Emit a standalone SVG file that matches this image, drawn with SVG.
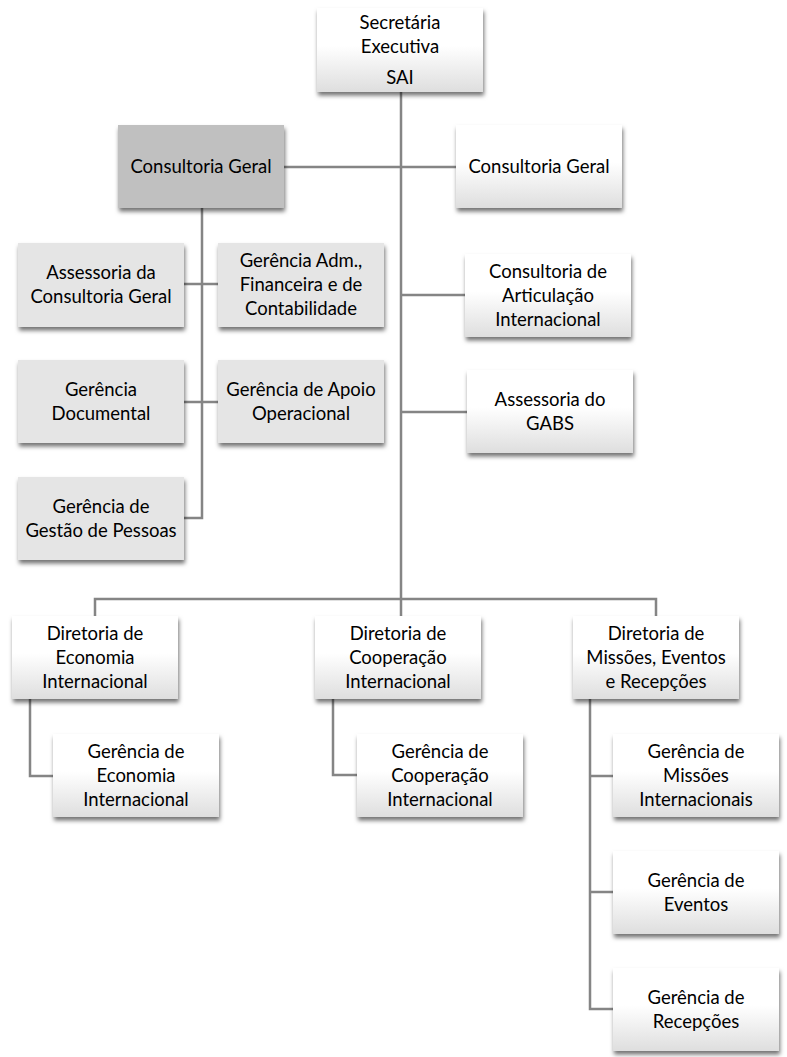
<svg xmlns="http://www.w3.org/2000/svg" width="787" height="1057" viewBox="0 0 787 1057">
<style>
.t{font-family:Lato,"Open Sans","Liberation Sans",sans-serif;font-size:18.5px;fill:#000;text-anchor:middle}
.w{fill:url(#gw);filter:url(#sh)}
.g{fill:#e5e5e5;filter:url(#sh)}
.d{fill:#c0c0c0;filter:url(#sh)}
.c{stroke:#858585;stroke-width:2.5;fill:none}
</style>
<defs>
<linearGradient id="gw" x1="0" y1="0" x2="0" y2="1">
<stop offset="0" stop-color="#ffffff"/>
<stop offset="0.45" stop-color="#ffffff"/>
<stop offset="1" stop-color="#dedede"/>
</linearGradient>
<filter id="sh" x="-10%" y="-10%" width="125%" height="135%">
<feDropShadow dx="1" dy="3.5" stdDeviation="2.2" flood-color="#000" flood-opacity="0.55"/>
</filter>
</defs>
<g id="connectors" class="c">
<path d="M401 92V616"/>
<path d="M284 167H456"/>
<path d="M401 295H465M401 412H467"/>
<path d="M202 208V518H184M184 284H218M184 402H218"/>
<path d="M95 616V599H656V616"/>
<path d="M30 699V776H53"/>
<path d="M333 699V775H357"/>
<path d="M590 699V1009H613M590 776H613M590 892H613"/>
</g>
<g id="n-sai"><rect class="w" x="317" y="8" width="166" height="84"/><text class="t" x="400" y="29">Secretária</text><text class="t" x="400" y="53">Executiva</text><text class="t" x="400" y="84">SAI</text></g>
<g id="n-cg-gray"><rect class="d" x="118" y="125" width="166" height="83"/><text class="t" x="201" y="173">Consultoria Geral</text></g>
<g id="n-cg"><rect class="w" x="456" y="125" width="166" height="83"/><text class="t" x="539" y="173">Consultoria Geral</text></g>
<g id="n-acg"><rect class="g" x="18" y="243" width="166" height="84"/><text class="t" x="101" y="279">Assessoria da</text><text class="t" x="101" y="303">Consultoria Geral</text></g>
<g id="n-gafc"><rect class="g" x="218" y="243" width="166" height="84"/><text class="t" x="301" y="267">Gerência Adm.,</text><text class="t" x="301" y="291">Financeira e de</text><text class="t" x="301" y="315">Contabilidade</text></g>
<g id="n-gd"><rect class="g" x="18" y="360" width="166" height="83"/><text class="t" x="101" y="396">Gerência</text><text class="t" x="101" y="420">Documental</text></g>
<g id="n-gao"><rect class="g" x="218" y="360" width="166" height="83"/><text class="t" x="301" y="396">Gerência de Apoio</text><text class="t" x="301" y="420">Operacional</text></g>
<g id="n-ggp"><rect class="g" x="18" y="477" width="166" height="83"/><text class="t" x="101" y="513">Gerência de</text><text class="t" x="101" y="537">Gestão de Pessoas</text></g>
<g id="n-cai"><rect class="w" x="465" y="254" width="166" height="83"/><text class="t" x="548" y="278">Consultoria de</text><text class="t" x="548" y="302">Articulação</text><text class="t" x="548" y="326">Internacional</text></g>
<g id="n-gabs"><rect class="w" x="467" y="370" width="166" height="83"/><text class="t" x="550" y="406">Assessoria do</text><text class="t" x="550" y="430">GABS</text></g>
<g id="n-dei"><rect class="w" x="12" y="616" width="166" height="83"/><text class="t" x="95" y="640">Diretoria de</text><text class="t" x="95" y="664">Economia</text><text class="t" x="95" y="688">Internacional</text></g>
<g id="n-dci"><rect class="w" x="315" y="616" width="166" height="83"/><text class="t" x="398" y="640">Diretoria de</text><text class="t" x="398" y="664">Cooperação</text><text class="t" x="398" y="688">Internacional</text></g>
<g id="n-dmer"><rect class="w" x="573" y="616" width="166" height="83"/><text class="t" x="656" y="640">Diretoria de</text><text class="t" x="656" y="664">Missões, Eventos</text><text class="t" x="656" y="688">e Recepções</text></g>
<g id="n-gei"><rect class="w" x="53" y="734" width="166" height="83"/><text class="t" x="136" y="758">Gerência de</text><text class="t" x="136" y="782">Economia</text><text class="t" x="136" y="806">Internacional</text></g>
<g id="n-gci"><rect class="w" x="357" y="734" width="166" height="83"/><text class="t" x="440" y="758">Gerência de</text><text class="t" x="440" y="782">Cooperação</text><text class="t" x="440" y="806">Internacional</text></g>
<g id="n-gmi"><rect class="w" x="613" y="734" width="166" height="83"/><text class="t" x="696" y="758">Gerência de</text><text class="t" x="696" y="782">Missões</text><text class="t" x="696" y="806">Internacionais</text></g>
<g id="n-ge"><rect class="w" x="613" y="851" width="166" height="83"/><text class="t" x="696" y="887">Gerência de</text><text class="t" x="696" y="911">Eventos</text></g>
<g id="n-gr"><rect class="w" x="613" y="968" width="166" height="83"/><text class="t" x="696" y="1004">Gerência de</text><text class="t" x="696" y="1028">Recepções</text></g>
</svg>
